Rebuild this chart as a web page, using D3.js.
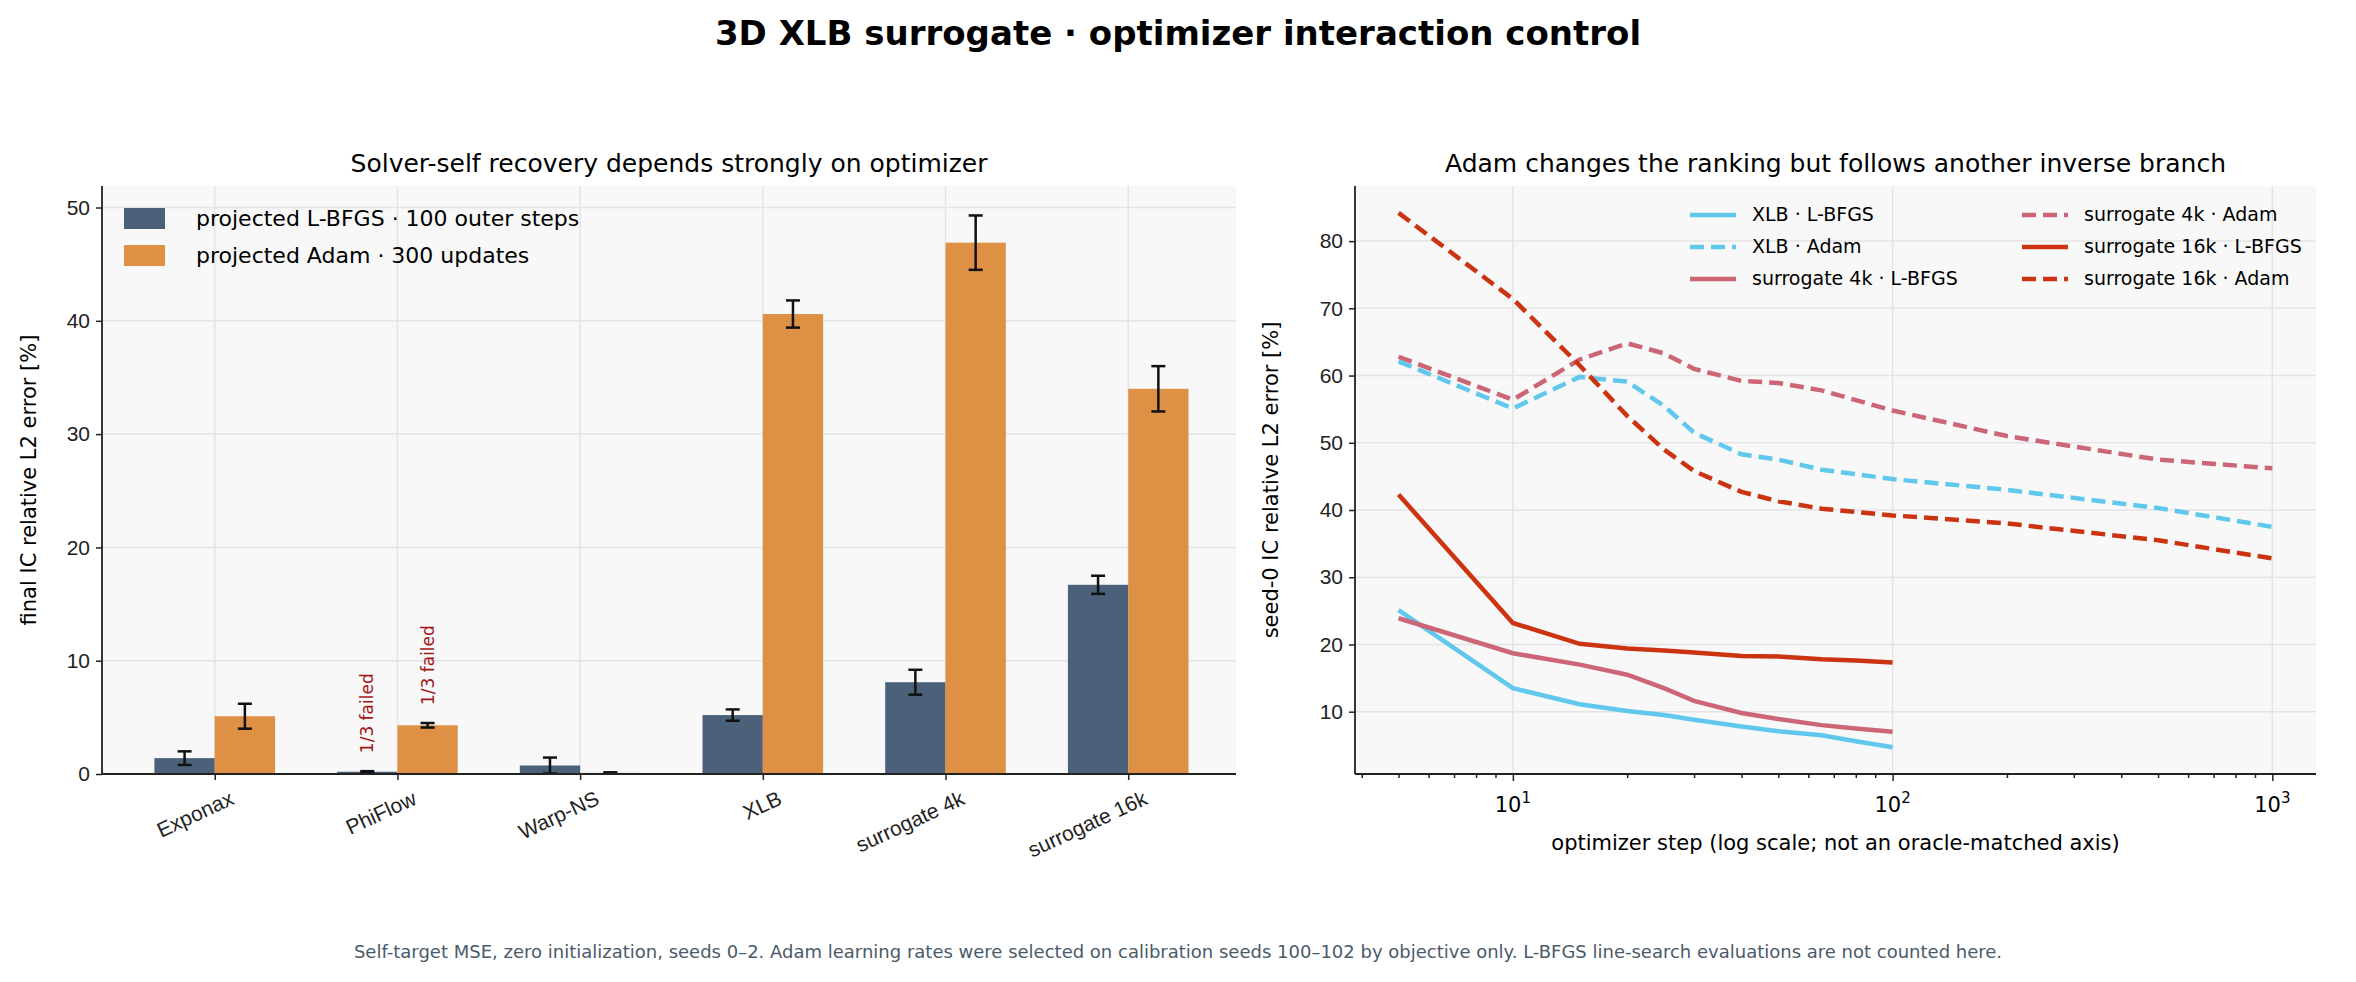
<!DOCTYPE html>
<html><head><meta charset="utf-8">
<script src="https://cdn.jsdelivr.net/npm/d3@7"></script>
<style>body{margin:0;background:#fff;font-family:"DejaVu Sans",sans-serif}</style>
</head><body><div id="chart"></div>
<script>
const categories = ["Exponax", "PhiFlow", "Warp-NS", "XLB", "surrogate 4k", "surrogate 16k"];
const lbfgsMean = [1.4, 0.2, 0.75, 5.2, 8.1, 16.7];
const lbfgsErr = [0.6, 0.05, 0.7, 0.5, 1.1, 0.8];
const adamMean = [5.1, 4.3, 0.1, 40.6, 46.9, 34.0];
const adamErr = [1.1, 0.2, 0.05, 1.2, 2.4, 2.0];
const failedNotes = [{cat: 1, series: 0, text: "1/3 failed"}, {cat: 1, series: 1, text: "1/3 failed"}];

const stepsL = [5, 10, 15, 20, 25, 30, 40, 50, 65, 80, 100];
const stepsA = [5, 10, 15, 20, 25, 30, 40, 50, 65, 100, 200, 500, 1000];
const xlbLbfgs = [25.1, 13.5, 11.1, 10.1, 9.5, 8.8, 7.8, 7.1, 6.5, 5.6, 4.7];
const s4kLbfgs = [23.9, 18.7, 17.0, 15.5, 13.5, 11.6, 9.8, 8.9, 8.0, 7.5, 7.0];
const s16kLbfgs = [42.3, 23.2, 20.1, 19.4, 19.1, 18.8, 18.3, 18.2, 17.8, 17.6, 17.3];
const xlbAdam = [62.1, 55.1, 59.8, 59.1, 55.5, 51.5, 48.3, 47.5, 46.0, 44.6, 43.0, 40.3, 37.5];
const s4kAdam = [62.8, 56.4, 62.4, 64.8, 63.3, 61.0, 59.2, 58.9, 57.8, 54.8, 51.0, 47.5, 46.2];
const s16kAdam = [84.2, 71.4, 61.5, 54.0, 49.0, 45.8, 42.7, 41.3, 40.2, 39.2, 38.0, 35.5, 32.8];

const series = [
  {name: "XLB · L-BFGS", x: stepsL, y: xlbLbfgs, color: "#5fc8ec", dash: null},
  {name: "XLB · Adam", x: stepsA, y: xlbAdam, color: "#5fc8ec", dash: "14,7"},
  {name: "surrogate 4k · L-BFGS", x: stepsL, y: s4kLbfgs, color: "#cc6677", dash: null},
  {name: "surrogate 4k · Adam", x: stepsA, y: s4kAdam, color: "#cc6677", dash: "14,7"},
  {name: "surrogate 16k · L-BFGS", x: stepsL, y: s16kLbfgs, color: "#cc3311", dash: null},
  {name: "surrogate 16k · Adam", x: stepsA, y: s16kAdam, color: "#cc3311", dash: "14,7"}
];

const W = 2356, H = 982;
const svg = d3.select("#chart").append("svg").attr("width", W).attr("height", H);
svg.append("text").attr("x", W / 2).attr("y", 45).attr("text-anchor", "middle")
  .attr("font-size", 34).attr("font-weight", "bold").text("3D XLB surrogate · optimizer interaction control");
svg.append("text").attr("x", W / 2).attr("y", 958).attr("text-anchor", "middle")
  .attr("font-size", 18).attr("fill", "#4a5a6a")
  .text("Self-target MSE, zero initialization, seeds 0–2. Adam learning rates were selected on calibration seeds 100–102 by objective only. L-BFGS line-search evaluations are not counted here.");

const topY = 186, bottom = 774;
const styleAxis = (g) => {
  g.selectAll("text").attr("font-size", 21).attr("fill", "#222");
  g.selectAll("line").attr("stroke", "#222").attr("stroke-width", 1.5);
  g.select(".domain").remove();
};

// LEFT PANEL
{
  const L = 102, R = 1236;
  const x = d3.scaleLinear().domain([-0.617, 5.59]).range([L, R]);
  const y = d3.scaleLinear().domain([0, 51.9]).range([bottom, topY]);
  const g = svg.append("g");
  g.append("rect").attr("x", L).attr("y", topY).attr("width", R - L).attr("height", bottom - topY).attr("fill", "#f8f8f8");
  g.selectAll(".gy").data(y.ticks(5)).enter().append("line")
    .attr("x1", L).attr("x2", R).attr("y1", d => y(d)).attr("y2", d => y(d)).attr("stroke", "#e4e4e4").attr("stroke-width", 1.5);
  g.selectAll(".gx").data(categories).enter().append("line")
    .attr("x1", (d, i) => x(i)).attr("x2", (d, i) => x(i)).attr("y1", topY).attr("y2", bottom).attr("stroke", "#e4e4e4").attr("stroke-width", 1.5);
  g.append("text").attr("x", (L + R) / 2).attr("y", 172).attr("text-anchor", "middle").attr("font-size", 25).text("Solver-self recovery depends strongly on optimizer");

  const bw = 0.33;
  const groups = [
    {mean: lbfgsMean, err: lbfgsErr, color: "#4b6179", off: -bw / 2},
    {mean: adamMean, err: adamErr, color: "#de9045", off: bw / 2}
  ];
  groups.forEach(s => {
    g.selectAll(null).data(s.mean).enter().append("rect")
      .attr("x", (d, i) => x(i + s.off - bw / 2)).attr("width", x(bw) - x(0))
      .attr("y", d => y(d)).attr("height", d => y(0) - y(d)).attr("fill", s.color);
    s.mean.forEach((m, i) => {
      const cx = x(i + s.off), e = s.err[i];
      g.append("line").attr("x1", cx).attr("x2", cx).attr("y1", y(m - e)).attr("y2", y(m + e)).attr("stroke", "#111").attr("stroke-width", 2.5);
      [m - e, m + e].forEach(v => g.append("line").attr("x1", cx - 7).attr("x2", cx + 7).attr("y1", y(v)).attr("y2", y(v)).attr("stroke", "#111").attr("stroke-width", 2.5));
    });
  });
  failedNotes.forEach(n => {
    const s = groups[n.series];
    const cx = x(n.cat + s.off), yy = y(s.mean[n.cat] + s.err[n.cat]) - 18;
    g.append("text").attr("transform", `translate(${cx + 6},${yy}) rotate(-90)`)
      .attr("font-size", 17).attr("fill", "#a01818").text(n.text);
  });

  const ya = g.append("g").attr("transform", `translate(${L},0)`).call(d3.axisLeft(y).ticks(5).tickSize(6).tickPadding(6));
  styleAxis(ya);
  const xa = g.append("g").attr("transform", `translate(0,${bottom})`).call(d3.axisBottom(x).tickValues(d3.range(6)).tickFormat(i => categories[i]).tickSize(6));
  styleAxis(xa);
  xa.selectAll("text").attr("text-anchor", "end").attr("transform", "translate(10,8) rotate(-25)").attr("dy", "0.7em");
  g.append("line").attr("x1", L).attr("x2", L).attr("y1", topY).attr("y2", bottom).attr("stroke", "#222").attr("stroke-width", 1.8);
  g.append("line").attr("x1", L).attr("x2", R).attr("y1", bottom).attr("y2", bottom).attr("stroke", "#222").attr("stroke-width", 1.8);
  g.append("text").attr("transform", `translate(36,${(topY + bottom) / 2}) rotate(-90)`).attr("text-anchor", "middle").attr("font-size", 21).text("final IC relative L2 error [%]");

  const lg = g.append("g").attr("transform", `translate(${L + 22},${topY + 22})`);
  ["projected L-BFGS · 100 outer steps", "projected Adam · 300 updates"].forEach((t, i) => {
    lg.append("rect").attr("x", 0).attr("y", i * 37).attr("width", 41).attr("height", 21).attr("fill", groups[i].color);
    lg.append("text").attr("x", 72).attr("y", i * 37 + 18).attr("font-size", 22).text(t);
  });
}

// RIGHT PANEL
{
  const L = 1355, R = 2316;
  const x = d3.scaleLog().domain([3.84, 1303]).range([L, R]);
  const y = d3.scaleLinear().domain([0.73, 88.2]).range([bottom, topY]);
  const g = svg.append("g");
  g.append("rect").attr("x", L).attr("y", topY).attr("width", R - L).attr("height", bottom - topY).attr("fill", "#f8f8f8");
  g.selectAll(".gy").data(d3.range(10, 90, 10)).enter().append("line")
    .attr("x1", L).attr("x2", R).attr("y1", d => y(d)).attr("y2", d => y(d)).attr("stroke", "#e4e4e4").attr("stroke-width", 1.5);
  g.selectAll(".gx").data([10, 100, 1000]).enter().append("line")
    .attr("x1", d => x(d)).attr("x2", d => x(d)).attr("y1", topY).attr("y2", bottom).attr("stroke", "#e4e4e4").attr("stroke-width", 1.5);
  g.append("text").attr("x", (L + R) / 2).attr("y", 172).attr("text-anchor", "middle").attr("font-size", 25).text("Adam changes the ranking but follows another inverse branch");

  const line = d3.line().x(d => x(d[0])).y(d => y(d[1]));
  series.forEach(s => {
    g.append("path").datum(s.x.map((v, i) => [v, s.y[i]])).attr("d", line)
      .attr("fill", "none").attr("stroke", s.color).attr("stroke-width", 4.5)
      .attr("stroke-dasharray", s.dash);
  });

  const ya = g.append("g").attr("transform", `translate(${L},0)`).call(d3.axisLeft(y).tickValues(d3.range(10, 90, 10)).tickSize(6).tickPadding(6));
  styleAxis(ya);
  const minor = [];
  [1, 10, 100, 1000].forEach(b => d3.range(2, 10).forEach(k => { const v = b * k; if (v > 3.84 && v < 1303) minor.push(v); }));
  const xm = g.append("g").attr("transform", `translate(0,${bottom})`).call(d3.axisBottom(x).tickValues(minor).tickFormat("").tickSize(4));
  styleAxis(xm);
  const xa = g.append("g").attr("transform", `translate(0,${bottom})`).call(d3.axisBottom(x).tickValues([10, 100, 1000]).tickFormat("").tickSize(7));
  styleAxis(xa);
  [10, 100, 1000].forEach((v, i) => {
    const t = g.append("text").attr("x", x(v)).attr("y", bottom + 38).attr("text-anchor", "middle").attr("font-size", 21);
    t.append("tspan").text("10");
    t.append("tspan").attr("dy", -9).attr("font-size", 15).text(i + 1);
  });
  g.append("line").attr("x1", L).attr("x2", L).attr("y1", topY).attr("y2", bottom).attr("stroke", "#222").attr("stroke-width", 1.8);
  g.append("line").attr("x1", L).attr("x2", R).attr("y1", bottom).attr("y2", bottom).attr("stroke", "#222").attr("stroke-width", 1.8);
  g.append("text").attr("x", (L + R) / 2).attr("y", 850).attr("text-anchor", "middle").attr("font-size", 21).text("optimizer step (log scale; not an oracle-matched axis)");
  g.append("text").attr("transform", `translate(1278,${(topY + bottom) / 2}) rotate(-90)`).attr("text-anchor", "middle").attr("font-size", 21).text("seed-0 IC relative L2 error [%]");

  series.forEach((s, k) => {
    const col = k < 3 ? 0 : 1, row = k % 3;
    const lx = 1690 + col * 332, ly = 215 + row * 32;
    g.append("line").attr("x1", lx).attr("x2", lx + 46).attr("y1", ly).attr("y2", ly)
      .attr("stroke", s.color).attr("stroke-width", 4.5).attr("stroke-dasharray", s.dash);
    g.append("text").attr("x", lx + 62).attr("y", ly + 6).attr("font-size", 19).text(s.name);
  });
}
</script></body></html>
